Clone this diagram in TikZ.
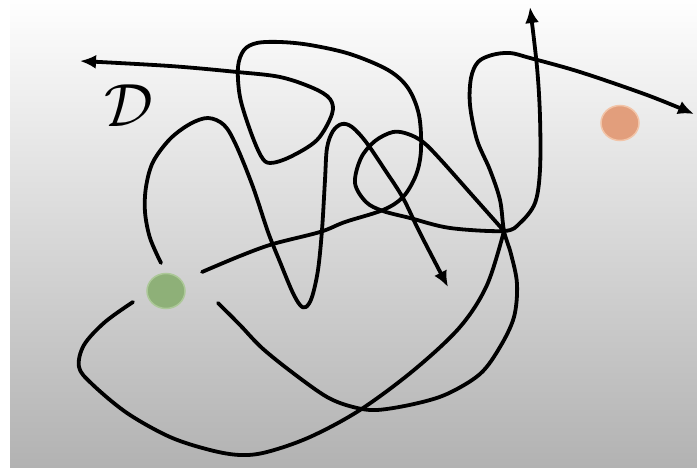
\documentclass[tikz,border=0pt]{standalone}
\usetikzlibrary{positioning, shapes.geometric, arrows.meta}
\definecolor{bgtop}{RGB}{254,254,254}
\definecolor{bgbot}{RGB}{178,178,178}
\definecolor{startgreen}{RGB}{142,176,120}
\definecolor{startedge}{RGB}{172,200,152}
\definecolor{goalorange}{RGB}{226,158,124}
\definecolor{goaledge}{RGB}{242,196,168}

\begin{document}
\begin{tikzpicture}[x=1pt, y=-1pt,
        path_line/.style={draw, line width=3.8pt, line cap=round, line join=round},
        path_arrow/.style={path_line, -{Latex[length=16pt, width=14pt]}},
        dot/.style={ellipse, minimum width=38pt, minimum height=35pt, inner sep=0pt, line width=1.5pt}
    ]
        % Background
        \useasboundingbox (0,0) rectangle (697,468);
        \fill[white] (0,0) rectangle (697,468);
        \shade[top color=bgtop, bottom color=bgbot] (10,0) rectangle (697,468);

        % Points
        \node[dot, fill=startgreen, draw=startedge] (start) at (166,291) {};
        \node[dot, fill=goalorange, draw=goaledge] (goal) at (620,123) {};
        \node[scale=6.1] (domain) at (129,106) {$\mathcal{D}$};
        \coordinate (cross) at (504,231);

        % Path 1: up-left, ends in the middle
        \draw[path_arrow] plot[smooth, tension=0.55] coordinates {
            (161,263) (150,238) (145,212) (146,187) (153,162) (170,139) (190,124) (208,118)
            (224,125) (236,145) (253,187) (268,232) (280,262) (292,291) (300,305) (306,307)
            (312,297) (318,270) (322,230) (325,180) (327,148) (333,131) (342,124) (352,127)
            (366,142) (385,170) (403,198) (420,233) (448,287)};

        % Path 2: right, round the top loop to the left
        \draw[path_arrow] plot[smooth, tension=0.55] coordinates {
            (202,272) (240,256) (273,244) (320,232) (345,222) (383,210) (403,197) (416,175)
            (421,150) (419,115) (408,88) (388,70) (350,54) (310,45) (280,42) (257,43)
            (244,50) (238,67) (240,97) (250,130) (261,156) (270,163) (290,157) (317,140)
            (332,114) (330,99) (313,88) (280,77) (237,72) (170,66) (80,61)};

        % Path 3: down-left, up through the knot to the top
        \draw[path_line] plot[smooth, tension=0.55] coordinates {
            (133,302) (105,322) (84,345) (79,367) (92,384) (127,413) (170,437) (210,450)
            (240,455) (267,452) (310,437) (360,410) (414,370) (460,327) (487,285) (cross)};
        \draw[path_arrow] plot[smooth, tension=0.55] coordinates {
            (cross) (472,195) (440,159) (423,142) (408,134) (393,132) (375,141) (361,158)
            (355,183) (366,202) (383,211) (410,218) (450,228) (cross) (520,223) (535,203)
            (540,170) (540,117) (537,67) (530,7)};

        % Path 4: down-right, up the arc to the right
        \draw[path_arrow] plot[smooth, tension=0.55] coordinates {
            (218,303) (240,325) (262,348) (293,373) (327,397) (353,407) (377,410) (414,404)
            (447,394) (480,374) (500,347) (514,317) (517,284) (511,254) (cross) (500,200)
            (490,170) (477,140) (470,105) (471,78) (478,62) (492,55) (510,53) (530,58)
            (580,72) (647,95) (694,114)};
    \end{tikzpicture}
\end{document}
